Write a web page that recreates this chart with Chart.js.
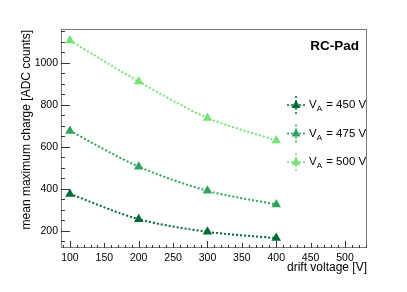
<!DOCTYPE html>
<html>
<head>
<meta charset="utf-8">
<script src="https://cdn.jsdelivr.net/npm/chart.js@4"></script>
<style>
  body { margin: 0; background: #fff; }
  #wrap { width: 407px; height: 292px; }
</style>
</head>
<body>
<div id="wrap"><canvas id="chargeChart" width="407" height="292"></canvas></div>
<script>
// values
const driftVoltage = [100, 200, 300, 400];
const charge450 = [375, 255, 195, 165];
const charge475 = [675, 505, 390, 325];
const charge500 = [1105, 910, 737, 630];
const anodeVoltages = ["450", "475", "500"];
const seriesColors = ["#006b35", "#2ea35a", "#76e276"];
const xTickValues = [100, 150, 200, 250, 300, 350, 400, 450, 500];
const yTickValues = [200, 400, 600, 800, 1000];

const FONT = "'Liberation Sans', Arial, Helvetica, sans-serif";

document.addEventListener("DOMContentLoaded", function () {
    drawChargeChart();
});

/* ROOT-like frame, inside ticks, axis titles, legend and label */
const rootFrame = {
    id: "rootFrame",
    afterDraw(chart) {
        const { ctx, chartArea: a, scales } = chart;
        const x = scales.x, y = scales.y;
        ctx.save();

        // frame
        ctx.strokeStyle = "#7a7a7a";
        ctx.lineWidth = 1;
        ctx.strokeRect(a.left + 0.5, a.top + 0.5, a.width - 1, a.height - 1);

        // x ticks
        ctx.strokeStyle = "#333";
        ctx.beginPath();
        for (let v = 90; v <= 530; v += 10) {
            const px = Math.round(x.getPixelForValue(v)) + 0.5;
            const len = v % 100 === 0 ? 7 : (v % 50 === 0 ? 5 : 3);
            ctx.moveTo(px, a.bottom);
            ctx.lineTo(px, a.bottom - len);
        }
        // y ticks
        for (let v = 150; v <= 1150; v += 50) {
            const py = Math.round(y.getPixelForValue(v)) + 0.5;
            const len = v % 200 === 0 ? 9 : 4;
            ctx.moveTo(a.left, py);
            ctx.lineTo(a.left + len, py);
        }
        ctx.stroke();

        // axis titles
        ctx.fillStyle = "#000";
        ctx.font = "12px " + FONT;
        ctx.textBaseline = "middle";
        ctx.textAlign = "right";
        ctx.fillText("drift voltage [V]", a.right, 268);
        ctx.save();
        ctx.translate(27, a.top + 1);
        ctx.rotate(-Math.PI / 2);
        ctx.fillText("mean maximum charge [ADC counts]", 0, 0);
        ctx.restore();

        // label
        ctx.font = "bold 13.5px " + FONT;
        ctx.fillText("RC-Pad", 359, 46);

        // legend
        chart.data.datasets.forEach((ds, i) => {
            const cx = 296, cy = 105 + i * 28.5;
            ctx.strokeStyle = ds.borderColor;
            ctx.fillStyle = ds.borderColor;
            ctx.lineWidth = 1.5;
            ctx.setLineDash([2, 2]);
            ctx.beginPath();
            ctx.moveTo(cx - 9, cy);
            ctx.lineTo(cx + 9, cy);
            ctx.moveTo(cx, cy - 9);
            ctx.lineTo(cx, cy + 9);
            ctx.stroke();
            ctx.setLineDash([]);
            ctx.beginPath();
            ctx.moveTo(cx, cy - 5);
            ctx.lineTo(cx + 4.5, cy + 3);
            ctx.lineTo(cx - 4.5, cy + 3);
            ctx.closePath();
            ctx.fill();

            ctx.fillStyle = "#000";
            ctx.textAlign = "left";
            ctx.font = "11.5px " + FONT;
            let tx = 309;
            ctx.fillText("V", tx, cy);
            tx += ctx.measureText("V").width;
            ctx.font = "8px " + FONT;
            ctx.fillText("A", tx, cy + 4);
            tx += ctx.measureText("A").width + 1;
            ctx.font = "11.5px " + FONT;
            ctx.fillText(" = " + anodeVoltages[i] + " V", tx, cy);
        });

        ctx.restore();
    },
};

function makeSeries(values) {
    return values.map((v, i) => ({ x: driftVoltage[i], y: v }));
}

function drawChargeChart() {
    const ctx = document.getElementById("chargeChart").getContext("2d");
    const allSeries = [charge450, charge475, charge500];

    new Chart(ctx, {
        type: "line",
        data: {
            datasets: allSeries.map((values, i) => ({
                label: "V_A = " + anodeVoltages[i] + " V",
                data: makeSeries(values),
                borderColor: seriesColors[i],
                backgroundColor: seriesColors[i],
                borderWidth: 2,
                borderDash: [2, 2],
                tension: 0.3,
                pointStyle: "triangle",
                pointRadius: 5.5,
                pointBorderWidth: 0,
                fill: false,
            })),
        },
        options: {
            responsive: false,
            animation: false,
            events: [],
            layout: { padding: { top: 29, right: 40, left: 0, bottom: 0 } },
            plugins: { legend: { display: false }, tooltip: { enabled: false } },
            scales: {
                x: {
                    type: "linear",
                    min: 87,
                    max: 532,
                    afterFit: (s) => { s.height = 44; },
                    afterBuildTicks: (s) => { s.ticks = xTickValues.map((v) => ({ value: v })); },
                    grid: { display: false, drawTicks: false },
                    border: { display: false },
                    ticks: {
                        color: "#000", padding: 4, maxRotation: 0,
                        font: { family: FONT, size: 10.5 },
                        callback: (v) => String(v),
                    },
                },
                y: {
                    type: "linear",
                    min: 118,
                    max: 1160,
                    afterFit: (s) => { s.width = 61; },
                    afterBuildTicks: (s) => { s.ticks = yTickValues.map((v) => ({ value: v })); },
                    grid: { display: false, drawTicks: false },
                    border: { display: false },
                    ticks: {
                        color: "#000", padding: 3,
                        font: { family: FONT, size: 10.5 },
                        callback: (v) => String(v),
                    },
                },
            },
        },
        plugins: [rootFrame],
    });
}
</script>
</body>
</html>
